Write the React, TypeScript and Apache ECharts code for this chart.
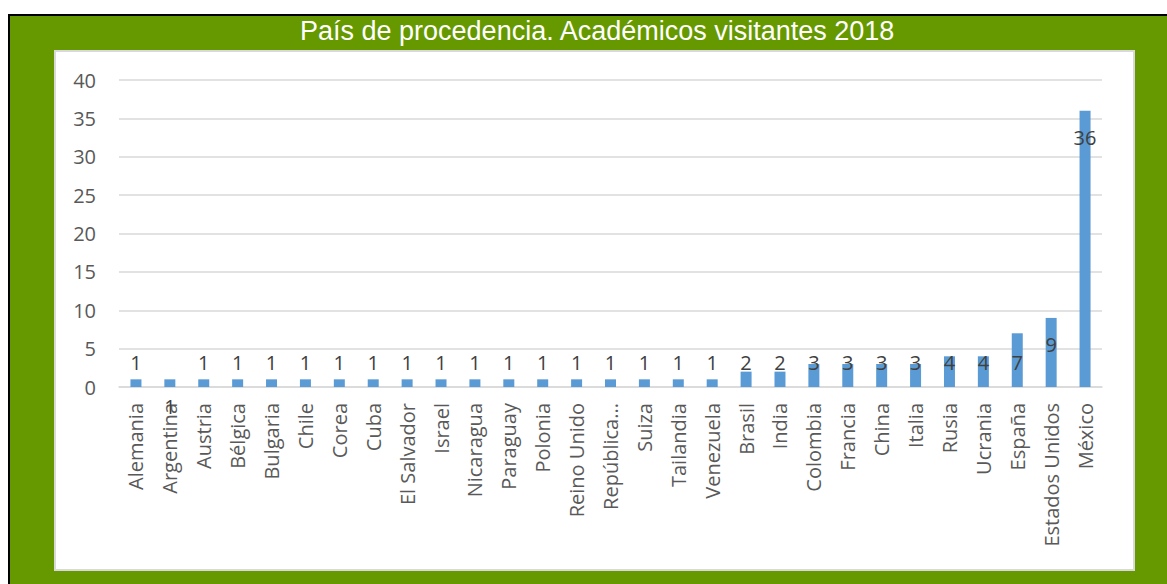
import React, { useEffect, useRef } from "react";
import * as echarts from "echarts";

const titleText = "País de procedencia. Académicos visitantes 2018";
const categories = [
  "Alemania", "Argentina", "Austria", "Bélgica", "Bulgaria", "Chile", "Corea", "Cuba",
  "El Salvador", "Israel", "Nicaragua", "Paraguay", "Polonia", "Reino Unido", "República...",
  "Suiza", "Tailandia", "Venezuela", "Brasil", "India", "Colombia", "Francia", "China",
  "Italia", "Rusia", "Ucrania", "España", "Estados Unidos", "México",
];
const values = [1, 1, 1, 1, 1, 1, 1, 1, 1, 1, 1, 1, 1, 1, 1, 1, 1, 1, 2, 2, 3, 3, 3, 3, 4, 4, 7, 9, 36];
const yMin = 0;
const yMax = 40;
const yStep = 5;

export default function App() {
  const ref = useRef<HTMLDivElement>(null);
  useEffect(() => {
    if (!ref.current) return;
    const chart = echarts.init(ref.current, null, { renderer: "svg" });
    const data = values.map((v, i) => {
      const item: any = { value: v };
      if (v >= 9) {
        item.label = { position: "insideTop", distance: 17 };
      }
      if (categories[i] === "Argentina") {
        item.label = { offset: [0, 44] };
      }
      return item;
    });
    chart.setOption({
      animation: false,
      backgroundColor: "transparent",
      title: {
        text: titleText,
        left: 300,
        top: 17,
        padding: 0,
        textStyle: {
          color: "#ffffff",
          fontFamily: "Liberation Sans, Arial, sans-serif",
          fontSize: 27,
          fontWeight: "normal",
        },
      },
      grid: { left: 119, right: 65, top: 80, bottom: 197, containLabel: false },
      xAxis: {
        type: "category",
        data: categories,
        axisLine: { lineStyle: { color: "#d9d9d9", width: 1.5 } },
        axisTick: { show: false },
        axisLabel: {
          interval: 0,
          rotate: 90,
          margin: 16,
          color: "#595959",
          fontSize: 20,
          fontFamily: "Open Sans, sans-serif",
        },
      },
      yAxis: {
        type: "value",
        min: yMin,
        max: yMax,
        interval: yStep,
        axisLine: { show: false },
        axisTick: { show: false },
        splitLine: { lineStyle: { color: "#d9d9d9", width: 1.5 } },
        axisLabel: {
          margin: 23,
          color: "#595959",
          fontSize: 20,
          fontFamily: "Open Sans, sans-serif",
        },
      },
      series: [
        {
          type: "bar",
          data,
          barWidth: 11,
          itemStyle: { color: "#5b9bd5" },
          label: {
            show: true,
            position: "insideBottom",
            distance: 15,
            color: "#404040",
            fontSize: 20,
            fontFamily: "Open Sans, sans-serif",
          },
        },
      ],
    });
    return () => chart.dispose();
  }, []);

  return (
    <div style={{ position: "fixed", left: 0, top: 0, width: 1167, height: 584, background: "#ffffff", overflow: "hidden" }}>
      <div style={{ position: "absolute", left: 8, top: 14, width: 1200, height: 600, background: "#000000" }} />
      <div style={{ position: "absolute", left: 10, top: 16, width: 1200, height: 600, background: "#669900" }} />
      <div
        style={{
          position: "absolute",
          left: 54,
          top: 50,
          width: 1077,
          height: 517,
          background: "#ffffff",
          border: "2px solid #d9d9d9",
        }}
      />
      <div ref={ref} style={{ position: "absolute", left: 0, top: 0, width: 1167, height: 584 }} />
    </div>
  );
}
